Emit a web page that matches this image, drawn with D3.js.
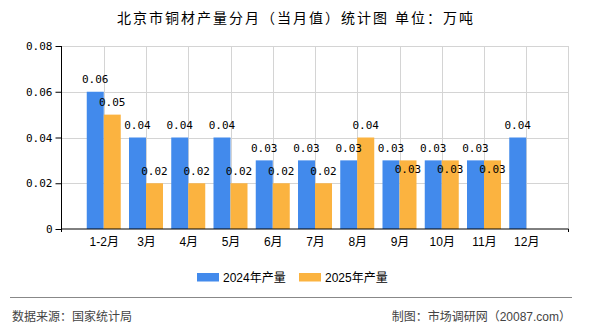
<!DOCTYPE html>
<html>
<head>
<meta charset="UTF-8">
<title>北京市铜材产量分月（当月值）统计图</title>
<script src="https://d3js.org/d3.v7.min.js"></script>
<style>
  body { margin: 0; padding: 0; background: #fff; }
  svg { display: block; }
  .mono { font-family: "DejaVu Sans Mono", monospace; font-size: 11px; fill: #000; }
  .cjk { font-family: "Liberation Sans", "Noto Sans CJK SC", sans-serif; }
</style>
</head>
<body>
<div id="chart"></div>
<script>
// 数据
const months = ["1-2月", "3月", "4月", "5月", "6月", "7月", "8月", "9月", "10月", "11月", "12月"];
const seriesNames = ["2024年产量", "2025年产量"];
const values2024 = [0.06, 0.04, 0.04, 0.04, 0.03, 0.03, 0.03, 0.03, 0.03, 0.03, 0.04];
const values2025 = [0.05, 0.02, 0.02, 0.02, 0.02, 0.02, 0.04, 0.03, 0.03, 0.03, null];
const yTicks = [0, 0.02, 0.04, 0.06, 0.08];
const colors = ["#428AEC", "#FBB340"];

const width = 590, height = 330;
const plotLeft = 61.5, plotRight = 568.5, plotTop = 46, plotBottom = 229;

const svg = d3.select("#chart").append("svg")
  .attr("width", width)
  .attr("height", height);

// 标题
svg.append("text")
  .attr("class", "cjk")
  .attr("x", width / 2 + 1)
  .attr("y", 23)
  .attr("text-anchor", "middle")
  .style("font-size", "14px")
  .style("letter-spacing", "2px")
  .text("北京市铜材产量分月（当月值）统计图 单位：万吨");

const x = d3.scalePoint().domain(months).range([plotLeft, plotRight]).padding(1);
const sub = d3.scaleBand().domain(seriesNames).range([-17, 17]);
const y = d3.scaleLinear().domain([0, 0.08]).range([plotBottom, plotTop]);

// 网格
const grid = svg.append("g").attr("stroke", "#d4d4d4").attr("stroke-width", 1);
grid.selectAll("line.h")
  .data(yTicks.filter(d => d > 0))
  .enter().append("line")
  .attr("x1", plotLeft).attr("x2", plotRight)
  .attr("y1", d => Math.round(y(d)) + 0.5).attr("y2", d => Math.round(y(d)) + 0.5);
grid.selectAll("line.v")
  .data(months)
  .enter().append("line")
  .attr("x1", d => Math.round(x(d)) + 0.5).attr("x2", d => Math.round(x(d)) + 0.5)
  .attr("y1", plotTop).attr("y2", plotBottom);
grid.append("line")
  .attr("x1", plotRight).attr("x2", plotRight)
  .attr("y1", plotTop).attr("y2", plotBottom);

// 柱子
const series = [values2024, values2025];
series.forEach((vals, si) => {
  svg.append("g").selectAll("rect")
    .data(vals.map((v, i) => ({ m: months[i], v })).filter(d => d.v != null))
    .enter().append("rect")
    .attr("x", d => x(d.m) + sub(seriesNames[si]))
    .attr("width", sub.bandwidth())
    .attr("y", d => y(d.v))
    .attr("height", d => plotBottom - y(d.v))
    .attr("fill", colors[si]);
});

// 数值标签
series.forEach((vals, si) => {
  svg.append("g").selectAll("text")
    .data(vals.map((v, i) => ({ m: months[i], v, i })).filter(d => d.v != null))
    .enter().append("text")
    .attr("class", "mono")
    .attr("text-anchor", "middle")
    .attr("x", d => x(d.m) + sub(seriesNames[si]) + sub.bandwidth() / 2)
    .attr("y", d => {
      // 与2024标签重叠时下移
      if (si === 1 && d.v === values2024[d.i]) return y(d.v) + 12.5;
      return y(d.v) - 8.5;
    })
    .text(d => d3.format(".2f")(d.v));
});

// 坐标轴
const yAxis = svg.append("g")
  .attr("transform", `translate(${plotLeft},0)`)
  .call(d3.axisLeft(y).tickValues(yTicks).tickSize(6).tickPadding(3)
    .tickFormat(d => d === 0 ? "0" : d3.format(".2f")(d)));
yAxis.select(".domain").attr("d", `M0,${plotTop}V${plotBottom + 3}`).attr("stroke", "#000");
yAxis.selectAll(".tick line").attr("stroke", "#000");
yAxis.selectAll(".tick text").attr("class", "mono").attr("fill", "#000");

const xAxis = svg.append("g")
  .attr("transform", `translate(0,${plotBottom})`)
  .call(d3.axisBottom(x).tickSize(0).tickPadding(8));
xAxis.select(".domain").attr("d", `M${plotLeft},3V0H${plotRight}V3`).attr("stroke", "#000");
xAxis.selectAll(".tick text")
  .attr("class", "cjk")
  .attr("fill", "#000")
  .style("font-size", "12px");

// 图例
const legend = svg.append("g");
const legendX = [197, 299];
seriesNames.forEach((name, i) => {
  legend.append("rect")
    .attr("x", legendX[i]).attr("y", 273)
    .attr("width", 22).attr("height", 8.5)
    .attr("fill", colors[i]);
  legend.append("text")
    .attr("class", "cjk")
    .attr("x", legendX[i] + 26).attr("y", 281.5)
    .style("font-size", "12px")
    .text(name);
});

// 页脚
svg.append("line")
  .attr("x1", 10).attr("x2", 572)
  .attr("y1", 297.5).attr("y2", 297.5)
  .attr("stroke", "#888").attr("stroke-width", 1);
svg.append("text")
  .attr("class", "cjk")
  .attr("x", 12).attr("y", 320.5)
  .attr("fill", "#444")
  .style("font-size", "12px")
  .text("数据来源：国家统计局");
svg.append("text")
  .attr("class", "cjk")
  .attr("x", 571).attr("y", 320.5)
  .attr("text-anchor", "end")
  .attr("fill", "#444")
  .style("font-size", "12px")
  .text("制图：市场调研网（20087.com）");
</script>
</body>
</html>
